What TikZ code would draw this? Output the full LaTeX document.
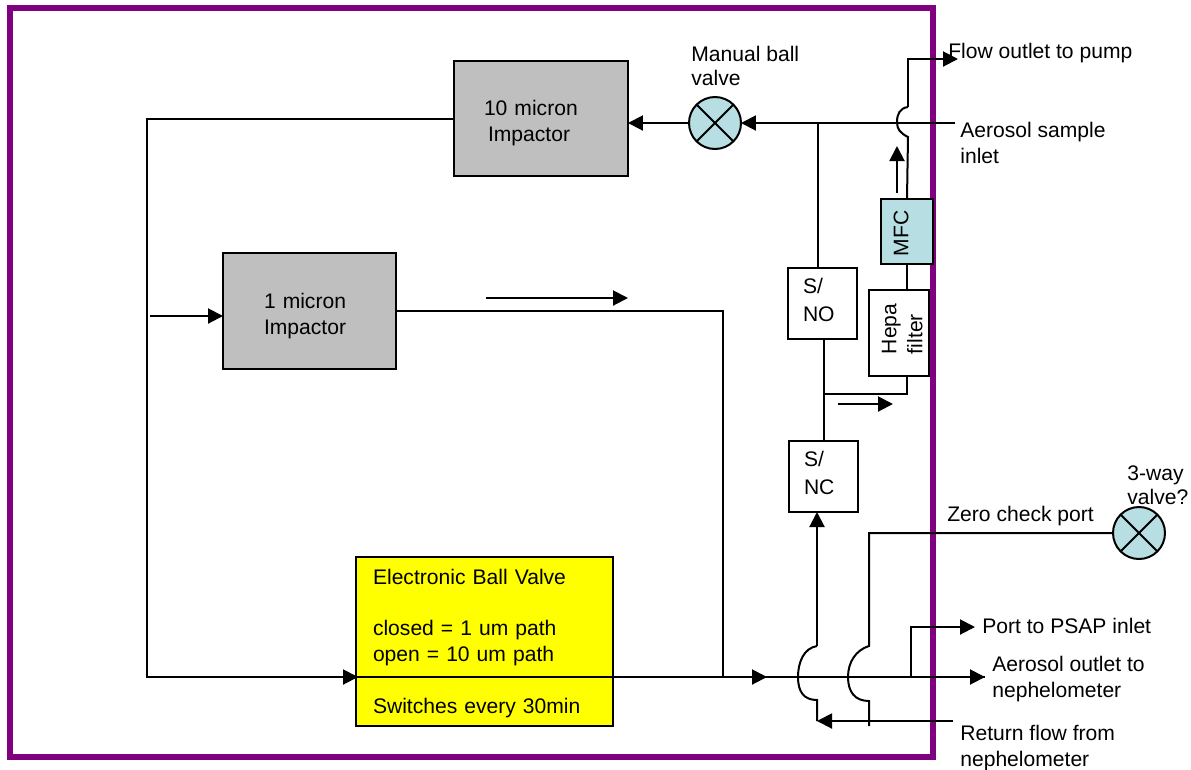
\documentclass[tikz,border=0pt]{standalone}
\usepackage{fontspec}
\setmainfont{Liberation Sans}
\usepackage{color}
\usetikzlibrary{arrows.meta}
\definecolor{framepurple}{HTML}{800080}
\definecolor{valveblue}{HTML}{B7DEE2}
\definecolor{impgray}{HTML}{BFBFBF}
\definecolor{ebvyellow}{HTML}{FFFF00}
\tikzset{>/.tip={Triangle[length=0.3cm,width=0.3cm]},
  every node/.style={font=\fontsize{12}{14.7}\selectfont},
  flow/.style={line width=0.04cm},
  box/.style={draw,line width=0.04cm,inner sep=0pt,outer sep=0pt,align=left},
  valve/.style={draw,circle,fill=valveblue,line width=0.04cm,minimum size=1.04cm,inner sep=0pt,outer sep=0pt,
    path picture={\draw[line width=0.04cm] (path picture bounding box.north west) -- (path picture bounding box.south east)
      (path picture bounding box.north east) -- (path picture bounding box.south west);}},
  txt/.style={anchor=west,align=left,inner sep=0pt},
  tight/.style={font=\fontsize{12}{13.6}\selectfont}}

\begin{document}
\begin{tikzpicture}[x=0.02cm,y=-0.02cm]
\useasboundingbox (0,0) rectangle (1191,769);
\node[draw=framepurple,line width=0.13cm,minimum width=18.46cm,minimum height=14.98cm,inner sep=0pt] (frame) at (471.5,382.5) {};

\node[box,fill=impgray,minimum width=3.48cm,minimum height=2.3cm,text width=2.28cm,inner xsep=0.6cm] (imp10) at (541,118.5)
     {\rule{0pt}{0.48cm}10 micron\\\hspace*{0.08cm}Impactor};
\node[box,fill=impgray,minimum width=3.46cm,minimum height=2.32cm,text width=1.82cm,inner xsep=0.82cm] (imp1) at (309.5,311)
     {\rule{0pt}{0.5cm}1 micron\\Impactor};
\node[box,fill=ebvyellow,minimum width=5.14cm,minimum height=3.38cm,text width=4.46cm,inner xsep=0.34cm] (ebv) at (484.5,641.5)
     {\rule{0pt}{0.38cm}Electronic Ball Valve\\[0.51cm]closed = 1 um path\\open = 10 um path\\[0.51cm]Switches every 30min};
\node[valve] (ball) at (715,123) {};
\node[valve] (valve3) at (1139,533) {};
\node[box,fill=white,minimum width=1.38cm,minimum height=1.42cm,text width=0.78cm,inner xsep=0.3cm] (sno) at (822.5,303.5)
     {S/\\[0.04cm]NO\rule[-0.16cm]{0pt}{0pt}};
\node[box,fill=white,minimum width=1.38cm,minimum height=1.42cm,text width=0.78cm,inner xsep=0.3cm] (snc) at (823.5,476.5)
     {S/\\[0.04cm]NC\rule[-0.16cm]{0pt}{0pt}};
\node[box,fill=valveblue,rotate=90,minimum width=1.3cm,minimum height=1.04cm,align=center] (mfc) at (907,231.5)
     {MFC\rule{0.08cm}{0pt}\rule[-0.24cm]{0pt}{0pt}};
\node[box,fill=white,rotate=90,minimum width=1.72cm,minimum height=1.2cm,text width=1.12cm,inner xsep=0.3cm] (hepa) at (899,333)
     {\rule{0pt}{0.42cm}\hspace*{0.14cm}Hepa\\\hspace*{0.14cm}filter};

\node[txt] (lflow) at (948,53) {Flow outlet to pump};
\node[txt,tight] (lball) at (691,66) {Manual ball\\valve};
\node[txt] (lsample) at (960,143) {Aerosol sample\\inlet};
\node[txt,tight] (lthree) at (1127,485) {3-way\\valve?};
\node[txt] (lzero) at (947,516) {Zero check port};
\node[txt] (lpsap) at (982,626) {Port to PSAP inlet};
\node[txt] (lneph) at (992,679) {Aerosol outlet to\\nephelometer};
\node[txt] (lret) at (960,748) {Return flow from\\nephelometer};

\coordinate (sample) at (955,123);
\coordinate (tee) at (818,123);
\coordinate (main) at (147,677);
\coordinate (merge) at (723,677);
\coordinate (nephout) at (985,677);
\coordinate (psap) at (911,677);
\coordinate (psapout) at (975,627);
\coordinate (retin) at (953,721);
\coordinate (retend) at (817,721);
\coordinate (pumpa) at (908,137);
\coordinate (pumpb) at (908,107);
\coordinate (pumpout) at (958,59);
\coordinate (sncjumpa) at (817,646);
\coordinate (sncjumpb) at (817,700);
\coordinate (zerojumpa) at (869,646);
\coordinate (zerojumpb) at (869,701);
\coordinate (zeroend) at (869,726);
\coordinate (hepajoin) at (824,394);

\draw[flow,->] (sample) -- (ball.east);
\draw[flow,->] (ball.west) -- (imp10.east |- ball.west);
\draw[flow] (tee) -- (tee |- sno.north);
\draw[flow] (imp10.west) -| (main) -- (merge) -- (nephout);
\draw[flow,->] (main) -- (358,677);
\draw[flow,->] (merge) -- (767,677);
\draw[flow,->] (psap) -- (nephout);
\draw[flow] (imp1.east) -| (merge);
\draw[flow,->] (150,316) -- (imp1.west |- 0,316);
\draw[flow,->] (486,298) -- (628,298);

\draw[flow] (hepajoin |- sno.south) -- (hepajoin |- snc.north);
\draw[flow] (hepajoin) -| (mfc.west |- hepa.west);
\draw[flow,->] (838,404) -- (893,404);
\draw[flow] (mfc.west |- hepa.east) -- (mfc.west);
\draw[flow] (mfc.east) -- (pumpa) .. controls (900,133) and (897,129) .. (897,122) .. controls (897,114) and (900,108) .. (pumpb);
\draw[flow,->] (pumpb) |- (pumpout);
\draw[flow,->] (897,193) -- (897,146);

\draw[flow,->] (sncjumpa) -- (sncjumpa |- snc.south);
\draw[flow] (sncjumpa) .. controls (804,648) and (798,662) .. (798,677) .. controls (798,692) and (804,700) .. (sncjumpb) -- (retend);
\draw[flow,->] (retin) -- (retend);
\draw[flow] (valve3.west) -| (zerojumpa) .. controls (856,650) and (848,662) .. (848,677) .. controls (848,692) and (855,701) .. (zerojumpb) -- (zeroend);
\draw[flow,->] (psap) |- (psapout);
\end{tikzpicture}
\end{document}
